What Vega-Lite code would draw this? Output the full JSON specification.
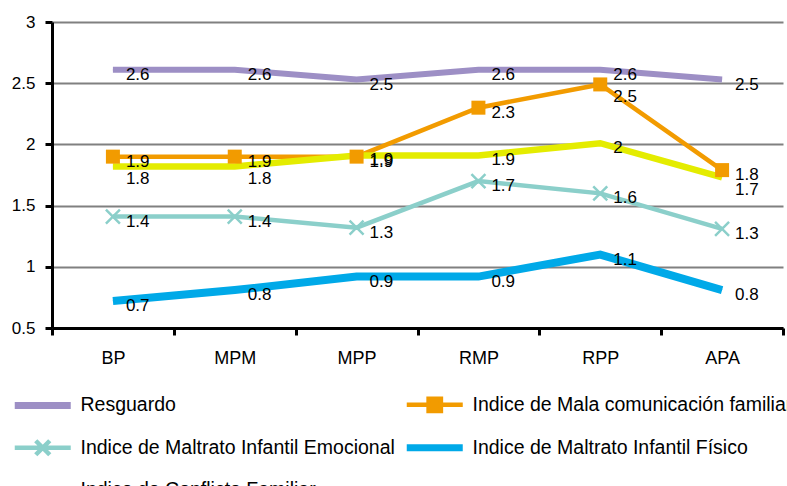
{
 "$schema": "https://vega.github.io/schema/vega-lite/v6.json",
 "width": 731, "height": 306,
 "autosize": {"type": "none"},
 "padding": {"left": 52, "top": 22, "right": 4, "bottom": 158},
 "config": {"view": {"stroke": null}, "font": "Liberation Sans"},
 "data": {"values": [
  {"cat":"BP","series":"Resguardo","value":2.61},
  {"cat":"MPM","series":"Resguardo","value":2.61},
  {"cat":"MPP","series":"Resguardo","value":2.53},
  {"cat":"RMP","series":"Resguardo","value":2.61},
  {"cat":"RPP","series":"Resguardo","value":2.61},
  {"cat":"APA","series":"Resguardo","value":2.53},
  {"cat":"BP","series":"Indice de Maltrato Infantil Emocional","value":1.41},
  {"cat":"MPM","series":"Indice de Maltrato Infantil Emocional","value":1.41},
  {"cat":"MPP","series":"Indice de Maltrato Infantil Emocional","value":1.32},
  {"cat":"RMP","series":"Indice de Maltrato Infantil Emocional","value":1.7},
  {"cat":"RPP","series":"Indice de Maltrato Infantil Emocional","value":1.6},
  {"cat":"APA","series":"Indice de Maltrato Infantil Emocional","value":1.31},
  {"cat":"BP","series":"Indice de Maltrato Infantil Físico","value":0.72},
  {"cat":"MPM","series":"Indice de Maltrato Infantil Físico","value":0.81},
  {"cat":"MPP","series":"Indice de Maltrato Infantil Físico","value":0.92},
  {"cat":"RMP","series":"Indice de Maltrato Infantil Físico","value":0.92},
  {"cat":"RPP","series":"Indice de Maltrato Infantil Físico","value":1.1},
  {"cat":"APA","series":"Indice de Maltrato Infantil Físico","value":0.81},
  {"cat":"BP","series":"Indice de Mala comunicación familiar","value":1.9},
  {"cat":"MPM","series":"Indice de Mala comunicación familiar","value":1.9},
  {"cat":"MPP","series":"Indice de Mala comunicación familiar","value":1.9},
  {"cat":"RMP","series":"Indice de Mala comunicación familiar","value":2.3},
  {"cat":"RPP","series":"Indice de Mala comunicación familiar","value":2.49},
  {"cat":"APA","series":"Indice de Mala comunicación familiar","value":1.79},
  {"cat":"BP","series":"Indice de Conflicto Familiar","value":1.82},
  {"cat":"MPM","series":"Indice de Conflicto Familiar","value":1.82},
  {"cat":"MPP","series":"Indice de Conflicto Familiar","value":1.91},
  {"cat":"RMP","series":"Indice de Conflicto Familiar","value":1.91},
  {"cat":"RPP","series":"Indice de Conflicto Familiar","value":2.01},
  {"cat":"APA","series":"Indice de Conflicto Familiar","value":1.73}
 ]},
 "encoding": {
  "x": {"field": "cat", "type": "nominal", "sort": ["BP","MPM","MPP","RMP","RPP","APA"],
        "scale": {"type": "band", "paddingInner": 0, "paddingOuter": 0},
        "axis": {"title": null, "domainColor": "black", "domainWidth": 3, "tickColor": "black", "tickWidth": 3, "tickSize": 7, "tickBand": "extent", "labelAngle": 0, "labelFontSize": 18, "labelColor": "black", "labelPadding": 14, "grid": false}},
  "y": {"field": "value", "type": "quantitative",
        "scale": {"domain": [0.5, 3], "nice": false, "zero": false},
        "axis": {"title": null, "values": [0.5,1,1.5,2,2.5,3], "format": ".1~f", "domainColor": "black", "domainWidth": 3, "tickColor": "black", "tickWidth": 3, "tickSize": 7, "labelFontSize": 17, "labelColor": "black", "labelPadding": 10, "grid": true, "gridColor": "#808080", "gridWidth": 2}}
 },
 "layer": [
  {"mark": {"type": "line"},
   "encoding": {
    "color": {"field": "series", "type": "nominal",
      "scale": {"domain": ["Resguardo","Indice de Mala comunicación familiar","Indice de Maltrato Infantil Emocional","Indice de Maltrato Infantil Físico","Indice de Conflicto Familiar"],
                "range": ["#9D8FC5","#F29B00","#8BCFCA","#00A9E8","#E4EC00"]},
      "legend": {"title": null, "orient": "none", "legendX": -19, "legendY": 373, "columns": 2, "direction": "horizontal",
        "symbolType": "stroke", "symbolSize": 3136, "symbolStrokeWidth": 6,
        "labelFont": "Liberation Sans", "labelFontSize": 19.5, "labelColor": "black",
        "columnPadding": -3, "rowPadding": 11, "labelOffset": 28, "labelLimit": 500,
        "encode": {"symbols": {"update": {
          "shape": {"signal": "datum.value === 'Indice de Mala comunicación familiar' ? 'M-1,0H1M-0.22,-0.22H0.22V0.22H-0.22Z' : datum.value === 'Indice de Maltrato Infantil Emocional' ? 'M-1,0H1M-0.25,-0.25L0.25,0.25M-0.25,0.25L0.25,-0.25' : 'stroke'"},
          "fill": {"signal": "datum.value === 'Indice de Mala comunicación familiar' ? '#F29B00' : 'transparent'"},
          "strokeWidth": {"signal": "indexof(['Resguardo','Indice de Maltrato Infantil Físico','Indice de Conflicto Familiar'], datum.value) >= 0 ? 7 : 4.5"}
        }}}}}
   }},
  {"transform": [{"filter": "datum.series === 'Resguardo'"}],
   "mark": {"type": "line", "strokeWidth": 6, "color": "#9D8FC5"}, "encoding": {}},
  {"transform": [{"filter": "datum.series === 'Indice de Maltrato Infantil Emocional'"}],
   "mark": {"type": "line", "strokeWidth": 4.5, "color": "#8BCFCA"}, "encoding": {}},
  {"transform": [{"filter": "datum.series === 'Indice de Maltrato Infantil Físico'"}],
   "mark": {"type": "line", "strokeWidth": 8, "color": "#00A9E8"}, "encoding": {}},
  {"transform": [{"filter": "datum.series === 'Indice de Mala comunicación familiar'"}],
   "mark": {"type": "line", "strokeWidth": 4.5, "color": "#F29B00"}, "encoding": {}},
  {"transform": [{"filter": "datum.series === 'Indice de Conflicto Familiar'"}],
   "mark": {"type": "line", "strokeWidth": 6.5, "color": "#E4EC00"}, "encoding": {}},
  {"transform": [{"filter": "datum.series === 'Indice de Mala comunicación familiar'"}],
   "mark": {"type": "point", "shape": "square", "filled": true, "color": "#F29B00", "size": 196, "opacity": 1}},
  {"transform": [{"filter": "datum.series === 'Indice de Maltrato Infantil Emocional'"}],
   "mark": {"type": "point", "shape": "M-1,-1L1,1M-1,1L1,-1", "filled": false, "color": "#8BCFCA", "strokeWidth": 2.5, "size": 196, "opacity": 1}},
  {"transform": [{"filter": "!((datum.series === 'Indice de Conflicto Familiar' && (datum.cat === 'BP' || datum.cat === 'MPM' || datum.cat === 'APA')) || (datum.series === 'Indice de Mala comunicación familiar' && datum.cat === 'RPP'))"}],
   "mark": {"type": "text", "align": "left", "baseline": "middle", "dx": 13, "dy": 5, "fontSize": 17, "color": "black"},
   "encoding": {"text": {"field": "value", "type": "quantitative", "format": ".1~f"}}},
  {"transform": [{"filter": "(datum.series === 'Indice de Conflicto Familiar' && (datum.cat === 'BP' || datum.cat === 'MPM' || datum.cat === 'APA')) || (datum.series === 'Indice de Mala comunicación familiar' && datum.cat === 'RPP')"}],
   "mark": {"type": "text", "align": "left", "baseline": "middle", "dx": 13, "dy": 13, "fontSize": 17, "color": "black"},
   "encoding": {"text": {"field": "value", "type": "quantitative", "format": ".1~f"}}}
 ]
}
